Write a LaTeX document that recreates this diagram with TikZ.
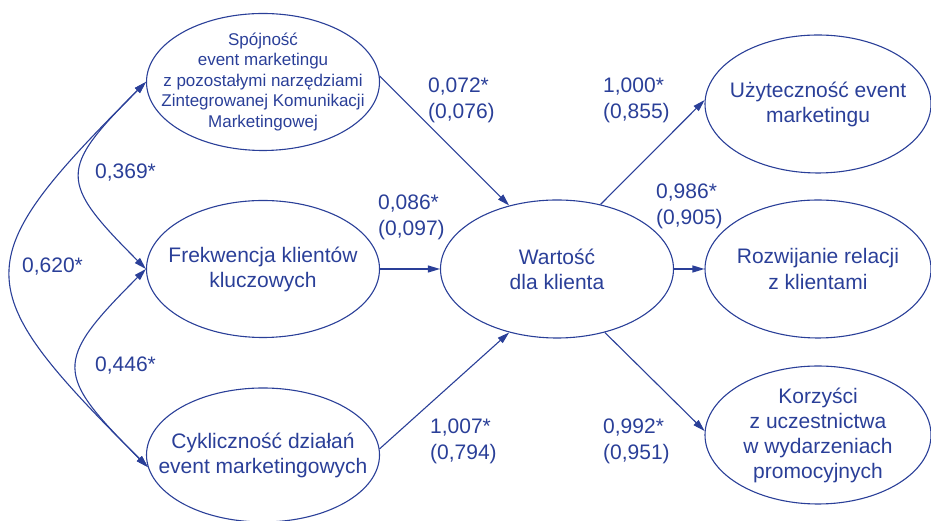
\documentclass[tikz,border=0pt]{standalone}
\usepackage{fontspec}
\setmainfont{Liberation Sans}
\usepackage{tikz}
\usetikzlibrary{shapes,arrows.meta}
\definecolor{semblue}{HTML}{2A3F98}
\tikzset{
  latent/.style={draw=semblue,ellipse,line width=1.1pt,inner xsep=-40pt,inner ysep=-20pt,text=semblue,align=center,
    minimum width=233pt,minimum height=137pt,font=\fontsize{21}{25}\selectfont},
  coef/.style={text=semblue,align=left,anchor=west,inner sep=0pt,font=\fontsize{21}{26}\selectfont},
  path/.style={draw=semblue,line width=1.1pt,-{Triangle[length=12pt,width=7pt]}},
  corr/.style={draw=semblue,line width=1.1pt,{Triangle[length=12pt,width=7pt]}-{Triangle[length=12pt,width=7pt]}}
}

\begin{document}
\begin{tikzpicture}[x=1pt,y=1pt]
      \useasboundingbox (0,0) rectangle (931,521);
      \node[latent,font=\fontsize{17}{20.5}\selectfont] (spojnosc) at (263,439) {Spójność\\event marketingu\\z pozostałymi narzędziami\\Zintegrowanej Komunikacji\\Marketingowej};
      \node[latent] (frekwencja) at (263,252) {Frekwencja klientów\\kluczowych};
      \node[latent,minimum height=134pt] (cyklicznosc) at (263,66) {Cykliczność działań\\event marketingowych};
      \node[latent,minimum height=138pt] (wartosc) at (557,252) {Wartość\\dla klienta};
      \node[latent,minimum width=226pt,minimum height=138pt] (uzytecznosc) at (818,417) {Użyteczność event\\marketingu};
      \node[latent,minimum width=226pt,minimum height=138pt] (relacje) at (818,252) {Rozwijanie relacji\\z klientami};
      \node[latent,minimum width=226pt,minimum height=138pt] (korzysci) at (818,86) {Korzyści\\z uczestnictwa\\w wydarzeniach\\promocyjnych};
      \node[coef] (c072) at (428,421) {0,072*\\(0,076)};
      \node[coef] (c086) at (378,304) {0,086*\\(0,097)};
      \node[coef] (c1007) at (430,80) {1,007*\\(0,794)};
      \node[coef] (c1000) at (603,421) {1,000*\\(0,855)};
      \node[coef] (c986) at (656,315) {0,986*\\(0,905)};
      \node[coef] (c992) at (603,80) {0,992*\\(0,951)};
      \node[coef] (r369) at (95,348) {0,369*};
      \node[coef] (r620) at (22,254) {0,620*};
      \node[coef] (r446) at (95,155) {0,446*};
      \draw[path] (spojnosc.3) -- (wartosc.127);
      \draw[path] (frekwencja.east) -- (wartosc.west);
      \draw[path] (cyklicznosc.3) -- (wartosc.233);
      \draw[path] (wartosc.56) -- (uzytecznosc.178);
      \draw[path] (wartosc.east) -- (relacje.west);
      \draw[path] (wartosc.-53) -- (korzysci.178);
      \draw[corr] (spojnosc.west) to[out=225,in=135,looseness=1.7] (frekwencja.west);
      \draw[corr] (frekwencja.west) to[out=225,in=135,looseness=1.7] (cyklicznosc.186);
      \draw[corr] (spojnosc.west) to[out=225,in=135,looseness=1.7] (cyklicznosc.186);
   \end{tikzpicture}
\end{document}
